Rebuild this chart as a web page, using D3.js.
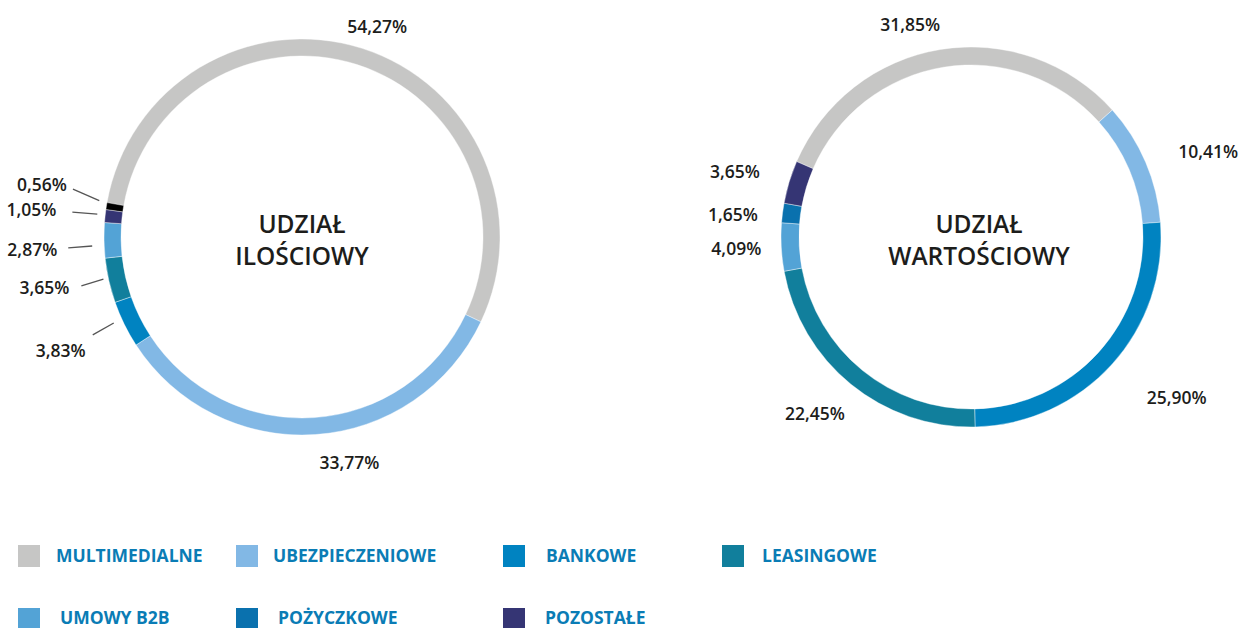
<!DOCTYPE html>
<html>
<head>
<meta charset="utf-8">
<script src="https://cdn.jsdelivr.net/npm/d3@7"></script>
<style>
  html, body { margin: 0; padding: 0; background: #fff; }
  svg { display: block; }
  text { font-family: "Open Sans", sans-serif; }
</style>
</head>
<body>
<svg id="chart" width="1239" height="628"></svg>
<script>
// ---- DATA ----
const categories = ["MULTIMEDIALNE", "UBEZPIECZENIOWE", "BANKOWE", "LEASINGOWE", "UMOWY B2B", "POŻYCZKOWE", "POZOSTAŁE"];
const categoryColors = ["#c6c6c5", "#82b8e5", "#0083c1", "#117f9c", "#53a3d6", "#0a71ae", "#353574"];

const leftKeys   = ["MULTIMEDIALNE", "UBEZPIECZENIOWE", "BANKOWE", "LEASINGOWE", "UMOWY B2B", "POZOSTAŁE", "INNE"];
const leftValues = [54.27, 33.77, 3.83, 3.65, 2.87, 1.05, 0.56];
const leftLabels = ["54,27%", "33,77%", "3,83%", "3,65%", "2,87%", "1,05%", "0,56%"];

const rightKeys   = ["MULTIMEDIALNE", "UBEZPIECZENIOWE", "BANKOWE", "LEASINGOWE", "UMOWY B2B", "POŻYCZKOWE", "POZOSTAŁE"];
const rightValues = [31.85, 10.41, 25.90, 22.45, 4.09, 1.65, 3.65];
const rightLabels = ["31,85%", "10,41%", "25,90%", "22,45%", "4,09%", "1,65%", "3,65%"];

const leftTitle  = ["UDZIAŁ", "ILOŚCIOWY"];
const rightTitle = ["UDZIAŁ", "WARTOŚCIOWY"];

// ---- LAYOUT ----
const deg = Math.PI / 180;
const color = d3.scaleOrdinal().domain(categories.concat(["INNE"])).range(categoryColors.concat(["#000000"]));
const svg = d3.select("#chart");

// label placement per slice:
// [end angle offset (deg), end radius, leader?, text dx, text dy, start angle offset, start radius]
const leftLabelLayout = [
  [2, 223, false], [-8, 231, false],
  [1.1, 231, true, -7, 16, 1.6, 207],
  [0.2, 226, true, -12, 2, 0.7, 203],
  [-1.7, 234, true, -11, 2, -1.5, 210],
  [0.1, 231, true, -16, -2, 0.3, 206],
  [2.8, 234, true, -6, -4, 1.2, 206]
];
const rightLabelLayout = [
  [-6.7, 221], [3.5, 252], [-4.2, 261], [2.2, 236], [0.1, 235], [-2, 239], [-1.3, 245]
];

function donut(cfg) {
  const g = svg.append("g").attr("transform", `translate(${cfg.cx},${cfg.cy})`);
  const pie = d3.pie().sort(null).value(d => d.v)
    .startAngle(cfg.start * deg).endAngle((cfg.start + 360) * deg);
  const data = cfg.values.map((v, i) => ({ k: cfg.keys[i], v, label: cfg.labels[i], lay: cfg.layout[i] }));
  const arcs = pie(data);
  const arc = d3.arc().innerRadius(cfg.r - cfg.thick).outerRadius(cfg.r);
  g.selectAll("path.slice").data(arcs).join("path")
    .attr("class", "slice")
    .attr("d", arc)
    .attr("fill", d => color(d.data.k))
    .attr("stroke", "#fff").attr("stroke-width", 0.4);

  const polar = (a, rad) => [Math.sin(a) * rad, -Math.cos(a) * rad];
  arcs.forEach(d => {
    const mid = (d.startAngle + d.endAngle) / 2;
    const lay = d.data.lay;
    if (lay[2]) {
      const p0 = polar(mid + lay[5] * deg, lay[6]);
      const p1 = polar(mid + lay[0] * deg, lay[1]);
      g.append("line")
        .attr("x1", p0[0]).attr("y1", p0[1]).attr("x2", p1[0]).attr("y2", p1[1])
        .attr("stroke", "#555").attr("stroke-width", 1.3);
      g.append("text")
        .attr("x", p1[0] + lay[3]).attr("y", p1[1] + lay[4])
        .attr("dy", "0.35em").attr("text-anchor", "end")
        .attr("font-size", 17.5).attr("font-weight", 600).attr("fill", "#1d1d1b")
        .text(d.data.label);
    } else {
      const p = polar(mid + lay[0] * deg, lay[1]);
      g.append("text")
        .attr("x", p[0]).attr("y", p[1])
        .attr("dy", "0.35em").attr("text-anchor", "middle")
        .attr("font-size", 17.5).attr("font-weight", 600).attr("fill", "#1d1d1b")
        .text(d.data.label);
    }
  });

  svg.append("g").selectAll("text").data(cfg.title).join("text")
    .attr("x", cfg.tx).attr("y", (d, i) => cfg.ty + i * 32)
    .attr("text-anchor", "middle")
    .attr("font-size", 24.5).attr("font-weight", 600).attr("fill", "#1d1d1b")
    .text(d => d);
}

donut({ cx: 302, cy: 237, r: 198, thick: 17, start: -80,
        keys: leftKeys, values: leftValues, labels: leftLabels, layout: leftLabelLayout,
        title: leftTitle, tx: 302, ty: 233 });
donut({ cx: 971, cy: 237, r: 190, thick: 18, start: -66.6,
        keys: rightKeys, values: rightValues, labels: rightLabels, layout: rightLabelLayout,
        title: rightTitle, tx: 979, ty: 233 });

// ---- LEGEND ----
const legendCols = [18, 236, 503, 722];
const legendRows = [545, 608];
const legend = svg.append("g").selectAll("g").data(categories).join("g")
  .attr("transform", (d, i) => `translate(${legendCols[i < 4 ? i : i - 4]},${legendRows[i < 4 ? 0 : 1]})`);
legend.append("rect").attr("width", 22).attr("height", 22).attr("fill", d => color(d));
legend.append("text")
  .attr("x", (d, i) => i < 4 ? [38, 37, 43, 40][i] : 42)
  .attr("y", (d, i) => i < 4 ? 17 : 16)
  .attr("font-size", 17.5).attr("font-weight", 700).attr("fill", "#0a7cb5")
  .text(d => d);
</script>
</body>
</html>
